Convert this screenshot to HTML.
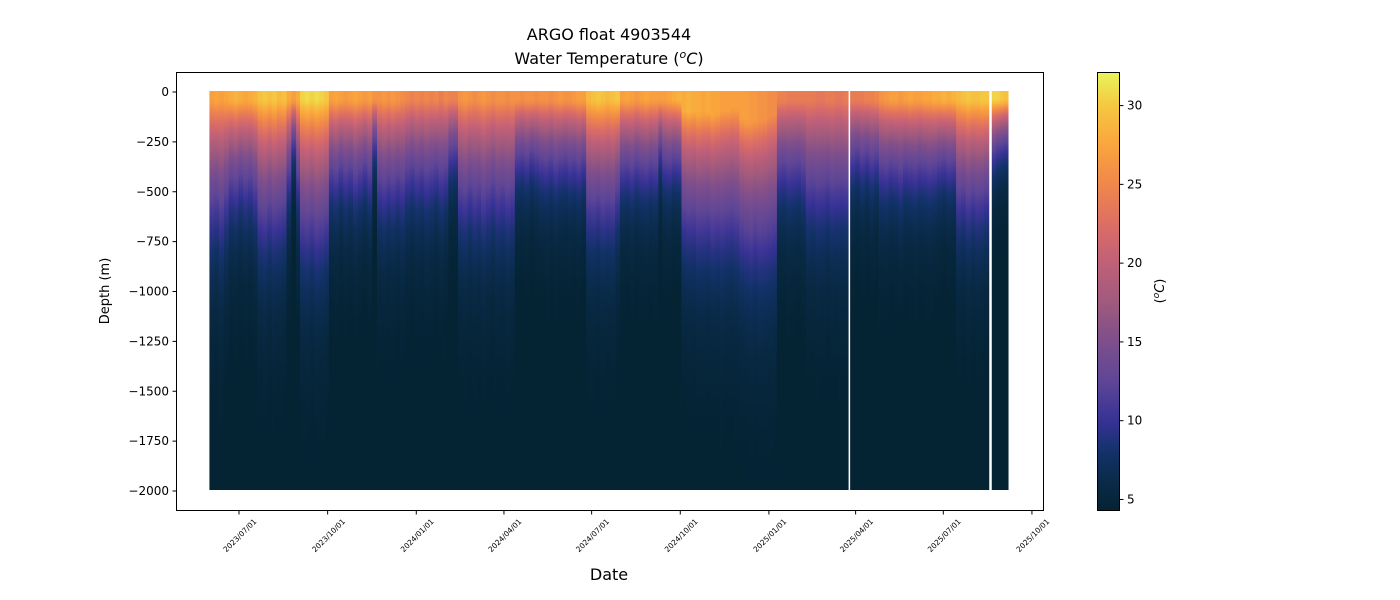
<!DOCTYPE html>
<html><head><meta charset="utf-8">
<style>
html,body{margin:0;padding:0;background:#fff;}
svg{display:block;font-family:"DejaVu Sans","Liberation Sans",sans-serif;}
</style></head>
<body>
<svg id="chart" width="1400" height="600" viewBox="0 0 1400 600">
<defs id="defs"></defs>
<text x="609" y="40" text-anchor="middle" font-size="16">ARGO float 4903544</text>
<text x="609" y="64" text-anchor="middle" font-size="16">Water Temperature (<tspan font-style="italic" font-size="11" dy="-6">o</tspan><tspan font-style="italic" dy="6">C</tspan>)</text>
<g id="plot"></g>
<rect x="176.5" y="72.5" width="867" height="438" fill="none" stroke="#000" stroke-width="1"/>
<g id="yaxis"></g>
<g id="xaxis"></g>
<text x="609" y="580" text-anchor="middle" font-size="16">Date</text>
<text transform="translate(109,291) rotate(-90)" text-anchor="middle" font-size="13">Depth (m)</text>
<g id="cbar"></g>
<text transform="translate(1164,291) rotate(-90)" text-anchor="middle" font-size="13">(<tspan font-style="italic" font-size="9" dy="-5">o</tspan><tspan font-style="italic" dy="5">C</tspan>)</text>
</svg>
<script>
// ---- data ----
const profileDays = [-28,-23,-18,-13,-8,-3,2,7,12,17,22,27,32,37,42,47,52,57,62,66,71,76,81,86,91,96,101,106,111,116,121,126,131,136,141,146,151,156,160,165,170,175,180,185,190,195,200,205,210,215,220,225,230,235,240,245,250,254,259,264,269,274,279,284,289,294,299,304,309,314,319,324,329,334,339,344,348,353,358,363,368,373,378,383,388,393,398,403,408,413,418,423,428,433,438,442,447,452,457,462,467,472,477,482,487,492,497,502,507,512,517,522,527,532,536,541,546,551,556,561,566,571,576,581,586,591,596,601,606,611,616,621,626,630,
637,642,647,652,657,662,667,672,677,682,687,692,697,702,707,712,717,722,727,732,737,742,747,752,757,762,767,772,776,
784,788,792,796];
const isotherm12Depth = [560,540,580,520, 450,470,430,460,440,480, 600,620,580,610,590,570, 400,250,420, 650,670,640,680,660,630,
400,420,380,410,390,430,400,370,410, 250, 450,470,440,460,430,450, 400,380,410,390,420,400,380,410,390, 300,290,
500,520,480,510,490,530,500,470,510,490,520,500, 330,320,340,310,330, 350,360,340,370,350,340,360,350,370,340,
550,560,540,570,550,560, 500, 380,370,390,360,380,390,370,380, 280, 350,360,340,350,
600,620,610,640,630,620,650,630,640,620,610,630, 680,700,720,690,710,700,680,660, 380,370,390,380,370,390,
470,460,480,470,450,480,470,460,470,
320,300,330,310,340,320, 380,390,370,380,400,370,380,390,370,380,390,380, 360,350,370,360, 520,500,540,510,530,520,500,
300,280,270,260];
const surfaceTemp = [27,27.5,27,27.5, 28,28.5,28,27.5,28,28.5, 29.5,30,29.5,30,29,29.5, 28,27,28, 30.5,31,30.5,31,30.5,30,
27,27.5,27,26.5,27,27.5,27,26.5,27, 26, 26,26.5,26,26.5,26,25.5, 25,24.5,25,24.5,25,24.5,25,24,25, 24.5,24.5,
26,26.5,26,25.5,26,26.5,26,25.5,26,26,25.5,26, 26,25.5,26,26,25.5, 26,26,25.5,26,26.5,26,26,26.5,27,27,
29,29.5,30,29.5,29,29.5, 30, 27,27.5,27,26.5,27,27.5,27,27, 27, 27,27.5,28,28.5,
28,28.5,28,28,27.5,28,27.5,27.5,27,27,27,27, 27,27,26.5,26.5,26,26,25.5,25.5, 24.5,24.5,24,24,24,24,
24,24,23.5,23.5,24,24,23.5,23.5,24,
24,24,24,24.5,24.5,25, 26,26.5,27,27,26.5,27,27.5,27,27,27.5,27.5,28, 28,28.5,28,28.5, 29,29.5,30,29.5,29.5,30,30,
30.5,30.5,30,29.5];
const mixedLayer = [50,50,50,50,50,50,50,50,50,50, 50,50,50,50,50,50,50,50,50,50, 50,50,50,50,50,50,50,50,50,50,
50,50,50,50,50,50,50,50,50,50, 50,50,50,50,50,50,50,50,50,50, 50,50,50,50,50,50,50,50,50,50,
50,50,50,50,50,50,50,50,50,50, 50,50,50,50,50,50,50,50,50,50, 50,50,50,50,50,50,50,50,50,50,
50,50,50,50,50,50,50,50,50, 100,100,100,110,110,100,120,110,100,100,90,90,
140,150,160,150,150,140,130,120, 50,50,50,50,50,50,50,50,50,50,50,50,50,50,50,
50,50,50,50,50,50,50,50,50,50, 50,50,50,50,50,50,50,50,50,50, 50,50,50,50,50,50,50,50,50,50, 50,50,50];
const yTicks = [0,-250,-500,-750,-1000,-1250,-1500,-1750,-2000];
const xTickLabels = ["2023/07/01","2023/10/01","2024/01/01","2024/04/01","2024/07/01","2024/10/01","2025/01/01","2025/04/01","2025/07/01","2025/10/01"];
const xTickDays = [0,92,184,275,366,458,550,640,731,823];
const cbarTicks = [5,10,15,20,25,30];

// ---- scales ----
const NS="http://www.w3.org/2000/svg";
const xScale = d => 239 + d*(704.3/731);
const yScale = z => 92 + (-z)*(399/2000);
const vmin=4.3, vmax=32.1;
const cmapT=[4.3,6,8,10,12.5,15,17.5,20,22.5,25,27.5,30,32.1];
const cmapC=[[4,35,51],[9,42,70],[18,50,105],[55,50,150],[95,70,150],[125,78,140],[160,90,125],[192,96,120],[220,110,100],[240,135,75],[250,165,60],[245,200,65],[232,245,90]];
function color(t){
  t=Math.max(vmin,Math.min(vmax,t));
  let i=0; while(i<cmapT.length-2 && t>cmapT[i+1]) i++;
  const r=(t-cmapT[i])/(cmapT[i+1]-cmapT[i]);
  const c=cmapC[i].map((v,k)=>Math.round(v+(cmapC[i+1][k]-v)*r));
  return `rgb(${c[0]},${c[1]},${c[2]})`;
}
function tempAt(z,sst,d12,mld){
  if(z<=mld) return sst;
  const k=Math.log((sst-4)/8)/Math.max(50,d12-mld);
  let t=4+(sst-4)*Math.exp(-k*(z-mld));
  if(z>d12){ t=4+(t-4)*Math.exp(-(z-d12)/1500); }
  return t;
}
function el(tag,attrs,parent){const e=document.createElementNS(NS,tag);for(const a in attrs)e.setAttribute(a,attrs[a]);parent.appendChild(e);return e;}

const defs=document.getElementById('defs');
const plot=document.getElementById('plot');
const zBottom=1995;
const n=Math.min(profileDays.length,isotherm12Depth.length,surfaceTemp.length);
for(let i=0;i<n;i++){
  const sst=surfaceTemp[i], d12=isotherm12Depth[i], mld=mixedLayer[i]||50;
  const g=el('linearGradient',{id:'g'+i,x1:0,y1:0,x2:0,y2:1},defs);
  const zs=[];for(let z=0;z<=600;z+=20)zs.push(z);for(let z=700;z<=zBottom;z+=100)zs.push(z);zs.push(zBottom);
  zs.forEach(z=>el('stop',{offset:(z/zBottom).toFixed(4),'stop-color':color(tempAt(z,sst,d12,mld))},g));
  const x=xScale(profileDays[i]);
  const r=el('rect',{x:(x-2.6).toFixed(2),y:yScale(0)-1,width:5.2,height:(yScale(-zBottom)-yScale(0)+1).toFixed(2),fill:`url(#g${i})`},plot);
  
  
}
// y axis
const ya=document.getElementById('yaxis');
yTicks.forEach(v=>{
  const y=yScale(v);
  el('line',{x1:172.5,x2:176.5,y1:y,y2:y,stroke:'#000'},ya);
  const t=el('text',{x:169,y:y+4,'text-anchor':'end','font-size':12},ya);
  t.textContent=v<0?'\u2212'+(-v):String(v);
  
  
});
// x axis
const xa=document.getElementById('xaxis');
xTickDays.forEach((d,i)=>{
  const x=xScale(d);
  el('line',{x1:x,x2:x,y1:510.5,y2:514.5,stroke:'#000'},xa);
  const t=el('text',{transform:`translate(${x+18},${522}) rotate(-45)`,'text-anchor':'end','font-size':7.5},xa);
  t.textContent=xTickLabels[i];
  
  
});
// colorbar
const cb=document.getElementById('cbar');
const cg=el('linearGradient',{id:'cbg',x1:0,y1:1,x2:0,y2:0},defs);
for(let k=0;k<=40;k++){const t=vmin+(vmax-vmin)*k/40;el('stop',{offset:k/40,'stop-color':color(t)},cg);}
const cbr=el('rect',{x:1097.5,y:72.5,width:22,height:438,fill:'url(#cbg)',stroke:'#000','stroke-width':1},cb);


const cy=v=>510.5-(v-vmin)/(vmax-vmin)*438;
cbarTicks.forEach(v=>{
  const y=cy(v);
  el('line',{x1:1119.5,x2:1123.5,y1:y,y2:y,stroke:'#000'},cb);
  const t=el('text',{x:1127,y:y+4,'font-size':12},cb);
  t.textContent=String(v);
  
  
});
</script>
</body></html>
